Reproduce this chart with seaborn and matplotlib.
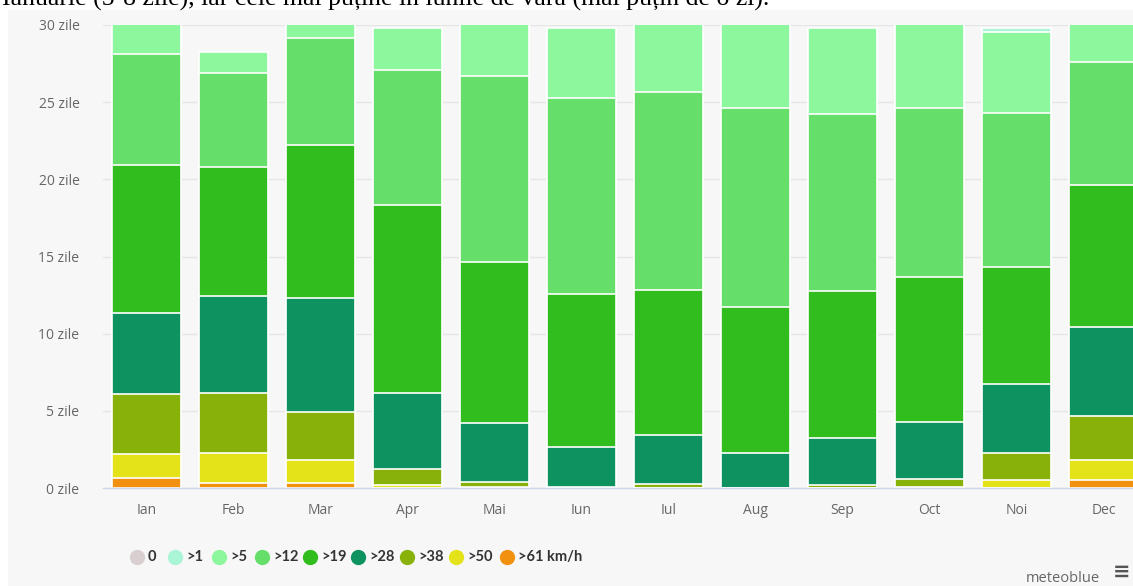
import numpy as np
import pandas as pd
import matplotlib
matplotlib.use("Agg")
import matplotlib.pyplot as plt
import seaborn as sns
from matplotlib.patches import Rectangle
from matplotlib.lines import Line2D

# ---------------- data ----------------
months = ["Ian", "Feb", "Mar", "Apr", "Mai", "Iun", "Iul", "Aug", "Sep", "Oct", "Noi", "Dec"]
classes = ["0", ">1", ">5", ">12", ">19", ">28", ">38", ">50", ">61 km/h"]

# days per month in each wind-speed class
d_0   = [0, 0, 0, 0, 0, 0, 0, 0, 0, 0, 0, 0]
d_1   = [0, 0, 0, 0, 0, 0, 0, 0, 0, 0, 0.23, 0]
d_5   = [2.90, 1.33, 1.86, 2.70, 4.30, 4.54, 5.32, 6.40, 5.58, 6.40, 5.25, 3.37]
d_12  = [7.20, 6.09, 6.91, 8.75, 12.07, 12.69, 12.85, 12.89, 11.43, 10.90, 9.98, 7.99]
d_19  = [9.57, 8.39, 9.94, 12.20, 10.44, 9.89, 9.40, 9.42, 9.57, 9.40, 7.61, 9.19]
d_28  = [5.25, 6.26, 7.34, 4.93, 3.78, 2.63, 3.15, 2.26, 3.05, 3.70, 4.44, 5.78]
d_38  = [3.90, 3.89, 3.14, 1.00, 0.36, 0.05, 0.28, 0.03, 0.15, 0.55, 1.74, 2.86]
d_50  = [1.55, 1.95, 1.47, 0.20, 0.05, 0, 0, 0, 0.02, 0.05, 0.55, 1.29]
d_61  = [0.63, 0.34, 0.34, 0.02, 0, 0, 0, 0, 0, 0, 0, 0.52]

yticks = [0, 5, 10, 15, 20, 25, 30]
ytick_labels = [f"{v} zile" for v in yticks]

colors = {
    "0": "#d9cfd1",
    ">1": "#a9f5d6",
    ">5": "#8cf79c",
    ">12": "#66de6a",
    ">19": "#32bd1f",
    ">28": "#0e925f",
    ">38": "#88b20a",
    ">50": "#e4e31a",
    ">61 km/h": "#f2900f",
}

# stack order bottom -> top
stack = [(">61 km/h", d_61), (">50", d_50), (">38", d_38), (">28", d_28),
         (">19", d_19), (">12", d_12), (">5", d_5), (">1", d_1), ("0", d_0)]

# ---------------- figure ----------------
W, H = 1133, 586
fig = plt.figure(figsize=(W / 100, H / 100), dpi=100, facecolor="white")
fig.patches.append(Rectangle((8 / W, 0), 1, 1 - 10 / H, transform=fig.transFigure,
                             facecolor="#f7f7f7", edgecolor="none", zorder=-10))

ax = fig.add_axes([103 / W, 98 / H, 1044 / W, 463 / H])
ax.set_facecolor("none")

df = pd.DataFrame({name: vals for name, vals in stack}, index=months)
cum = df.cumsum(axis=1)

# draw from the top of the stack downwards so lower layers overlay
for name, _ in reversed(stack):
    sns.barplot(x=months, y=cum[name].values, order=months, color=colors[name],
                saturation=1, width=0.79, edgecolor="white", linewidth=1.2, ax=ax)

ax.set_xlim(-0.5, 11.5)
ax.set_ylim(0, 30)
ax.set_yticks(yticks)
ax.set_yticklabels(ytick_labels)
ax.grid(axis="y", color="#e6e6e6", linewidth=1)
ax.grid(axis="x", visible=False)
ax.set_axisbelow(True)
for s in ["top", "right", "left"]:
    ax.spines[s].set_visible(False)
ax.spines["bottom"].set_color("#ccd6eb")
ax.spines["bottom"].set_linewidth(1)
ax.tick_params(axis="both", length=0, colors="#666666", labelsize=10)
ax.tick_params(axis="y", pad=17)
ax.tick_params(axis="x", pad=11)
for lab in ax.get_xticklabels() + ax.get_yticklabels():
    lab.set_family("Open Sans")
ax.set_xlabel("")
ax.set_ylabel("")

# legend (laid out item by item like the Highcharts legend)
leg_y = 1 - 557 / H
leg_x = [137, 175, 219, 262, 310, 358, 407, 456, 507]
for px, c in zip(leg_x, classes):
    fig.add_artist(Line2D([px / W], [leg_y], transform=fig.transFigure, marker="o",
                          linestyle="none", markersize=11,
                          markerfacecolor=colors[c], markeredgecolor="none"))
    fig.text((px + 11) / W, leg_y, c, ha="left", va="center", family="Lato",
             fontsize=10.5, fontweight="bold", color="#333333")

# credits
fig.text(1100 / W, 1 - 578 / H, "meteoblue", ha="right", va="center",
         family="Open Sans", fontsize=10.5, color="#666666")
fig.text(1122 / W, 1 - 572 / H, "≡", ha="center", va="center",
         family="DejaVu Sans", fontsize=15, color="#555555", fontweight="bold")

# cut-off sentence at the very top (as in the reference screenshot)
fig.text(0.002, 1 - 6 / H,
         "Ianuarie (5-8 zile), iar cele mai puține în lunile de vară (mai puțin de o zi).",
         ha="left", va="baseline", family="Liberation Serif", fontsize=18.5, color="black")

fig.savefig("out.png", dpi=100, facecolor="white")
